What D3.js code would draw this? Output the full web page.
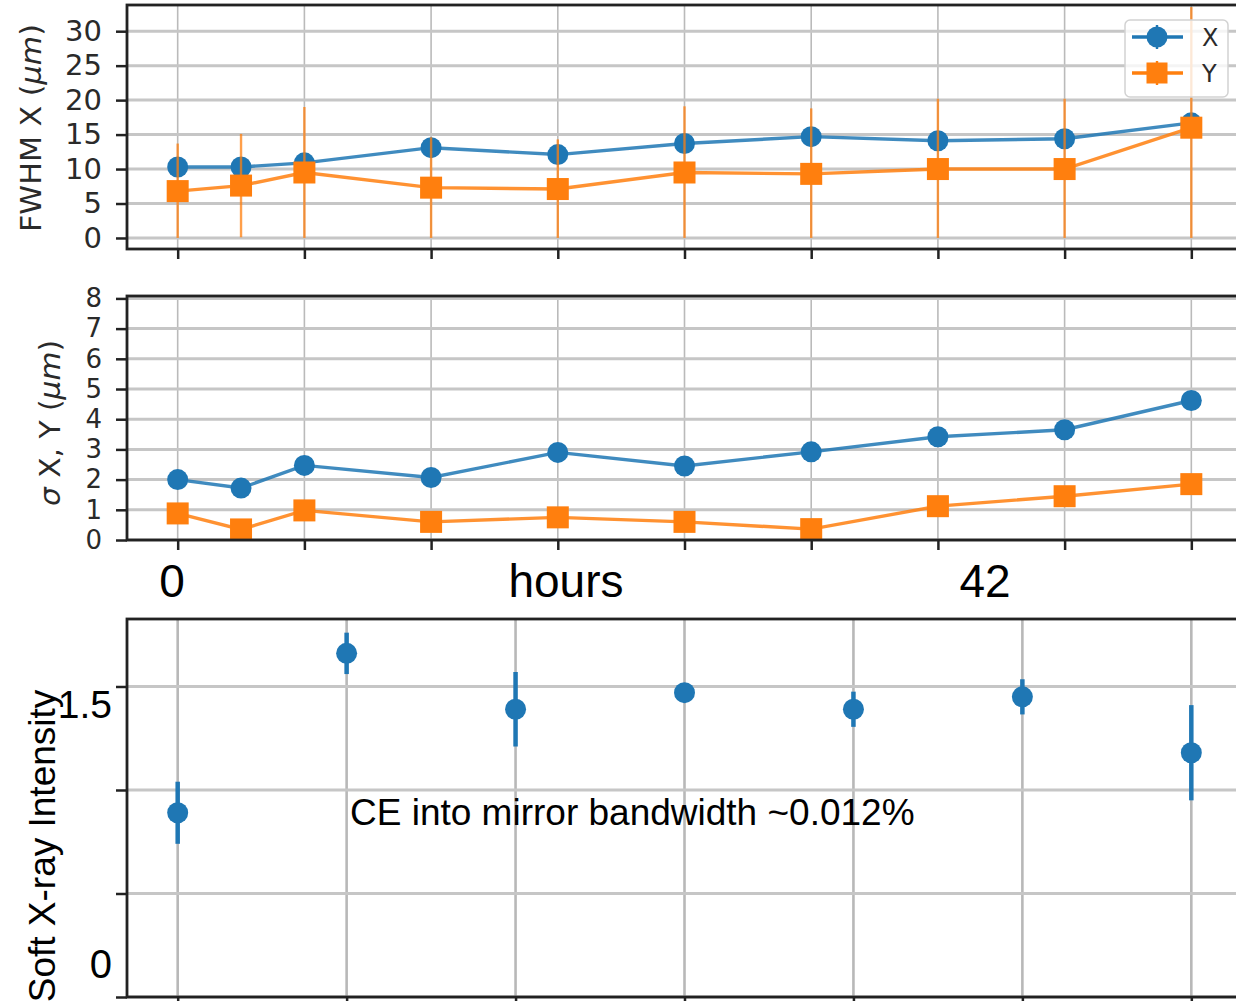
<!DOCTYPE html>
<html>
<head>
<meta charset="utf-8">
<script src="https://cdn.jsdelivr.net/npm/d3@7/dist/d3.min.js"></script>
<style>
  body { margin: 0; background: #fff; }
  svg { display: block; }
  .axis text { font-family: 'DejaVu Sans', sans-serif; fill: #2a2a2a; }
  .axis line { stroke: #222; stroke-width: 2.5; }
  .axis path { display: none; }
  .ylabel { font-family: 'DejaVu Sans', sans-serif; fill: #2a2a2a; }
  .note { font-family: 'Liberation Sans', Arial, sans-serif; fill: #000; }
</style>
</head>
<body>
<svg width="1236" height="1001"></svg>
<script>
// time axis shared by the two upper panels
const hours = [0, 3, 6, 12, 18, 24, 30, 36, 42, 48]
const hourTicks = [0, 6, 12, 18, 24, 30, 36, 42, 48]

// FWHM (um)
const fwhmX = [10.3, 10.3, 10.9, 13.1, 12.1, 13.7, 14.7, 14.1, 14.4, 16.7]
const fwhmXErr = [0.7, 0.7, 0.7, 0.7, 0.7, 0.7, 0.7, 0.7, 0.7, 0.8]
const fwhmY = [6.8, 7.6, 9.5, 7.3, 7.1, 9.5, 9.3, 10.0, 10.0, 16.0]
const fwhmYErr = [6.9, 7.5, 9.5, 7.3, 7.2, 9.6, 9.5, 10.2, 10.2, 17.5]
const fwhmTicks = [0, 5, 10, 15, 20, 25, 30]

// sigma (um)
const sigmaX = [2.0, 1.72, 2.47, 2.07, 2.9, 2.45, 2.92, 3.42, 3.65, 4.62]
const sigmaY = [0.88, 0.35, 0.98, 0.6, 0.75, 0.6, 0.36, 1.12, 1.45, 1.85]
const sigmaTicks = [0, 1, 2, 3, 4, 5, 6, 7, 8]

// soft x-ray intensity
const runs = [0, 1, 2, 3, 4, 5, 6]
const intensity = [0.89, 1.66, 1.39, 1.47, 1.39, 1.45, 1.18]
const intensityErr = [0.15, 0.1, 0.18, 0.03, 0.085, 0.085, 0.23]
const intensityTicks = [0, 0.5, 1, 1.5]

const legendLabels = ['X', 'Y']

const blue = '#1f77b4'
const orange = '#ff7f0e'

const svg = d3.select('svg')

const scales = {
  hours: d3.scaleLinear().domain([-2.4, 50.4]).range([127, 1242]),
  runs: d3.scaleLinear().domain([-0.3, 6.3]).range([127, 1242]),
  fwhm: d3.scaleLinear().domain([-1.6, 33.8]).range([249, 5]),
  sigma: d3.scaleLinear().domain([0, 8.08]).range([540, 296]),
  intensity: d3.scaleLinear().domain([0, 1.826]).range([997, 619])
}

const setupPanel = (id, x, y, xTicks, yTicks, opts) => {
  const [x0, x1] = x.range()
  const [y1, y0] = y.range()

  svg.append('clipPath').attr('id', id)
    .append('rect')
    .attr('x', x0).attr('y', y0)
    .attr('width', x1 - x0).attr('height', y1 - y0)

  const g = svg.append('g').attr('class', 'panel ' + id)

  g.append('g').selectAll('line').data(xTicks).join('line')
    .attr('x1', d => x(d)).attr('x2', d => x(d))
    .attr('y1', y0).attr('y2', y1)
    .attr('stroke', opts.vColor).attr('stroke-width', opts.vGrid)

  g.append('g').selectAll('line').data(yTicks).join('line')
    .attr('x1', x0).attr('x2', x1)
    .attr('y1', d => y(d)).attr('y2', d => y(d))
    .attr('stroke', '#c6c6c6').attr('stroke-width', 3)

  const plot = g.append('g').attr('clip-path', `url(#${id})`)

  const axisY = d3.axisLeft(y)
    .tickValues(yTicks)
    .tickSize(11)
    .tickPadding(14)
    .tickFormat(opts.yFormat)

  g.append('g').attr('class', 'axis axis-y')
    .attr('transform', `translate(${x0},0)`)
    .call(axisY)
    .selectAll('text')
    .style('font-size', opts.fontSize + 'px')

  const axisX = d3.axisBottom(x)
    .tickValues(xTicks)
    .tickSize(10)
    .tickFormat('')

  g.append('g').attr('class', 'axis axis-x')
    .attr('transform', `translate(0,${y1})`)
    .call(axisX)

  const frame = () => g.append('rect')
    .attr('x', x0).attr('y', y0)
    .attr('width', x1 - x0).attr('height', y1 - y0)
    .attr('fill', 'none')
    .attr('stroke', '#222')
    .attr('stroke-width', 2.8)

  return { g, plot, frame }
}

const drawSeries = (plot, x, y, xs, vals, errs, color, shape, withLine) => {
  const pts = xs.map((h, i) => ({ h, v: vals[i], e: errs ? errs[i] : 0 }))

  if (errs) {
    plot.append('g').selectAll('line').data(pts).join('line')
      .attr('x1', d => x(d.h)).attr('x2', d => x(d.h))
      .attr('y1', d => y(Math.max(0, d.v - d.e)))
      .attr('y2', d => y(d.v + d.e))
      .attr('stroke', color)
      .attr('stroke-width', withLine ? 2.4 : 4.5)
      .attr('opacity', withLine ? 0.75 : 1)
  }

  if (withLine) {
    const line = d3.line().x(d => x(d.h)).y(d => y(d.v))
    plot.append('path')
      .datum(pts)
      .attr('d', line)
      .attr('fill', 'none')
      .attr('stroke', color)
      .attr('stroke-width', 3.4)
      .attr('opacity', 0.85)
  }

  if (shape === 'circle') {
    plot.append('g').selectAll('circle').data(pts).join('circle')
      .attr('cx', d => x(d.h)).attr('cy', d => y(d.v))
      .attr('r', 10.5)
      .attr('fill', color)
  } else {
    plot.append('g').selectAll('rect').data(pts).join('rect')
      .attr('x', d => x(d.h) - 11).attr('y', d => y(d.v) - 11)
      .attr('width', 22).attr('height', 22)
      .attr('fill', color)
  }
}

// top panel: FWHM
const fwhmPanel = setupPanel('p-fwhm', scales.hours, scales.fwhm, hourTicks, fwhmTicks,
  { fontSize: 29, vGrid: 1.6, vColor: '#bababa', yFormat: d3.format('d') })
drawSeries(fwhmPanel.plot, scales.hours, scales.fwhm, hours, fwhmX, fwhmXErr, blue, 'circle', true)
drawSeries(fwhmPanel.plot, scales.hours, scales.fwhm, hours, fwhmY, fwhmYErr, orange, 'square', true)
fwhmPanel.frame()

// legend
const legend = fwhmPanel.g.append('g').attr('transform', 'translate(1125,20)')
legend.append('rect')
  .attr('width', 103).attr('height', 77).attr('rx', 5)
  .attr('fill', '#fff').attr('fill-opacity', 0.8)
  .attr('stroke', '#d2d2d2').attr('stroke-width', 1.5)
const items = legend.selectAll('.item').data(legendLabels).join('g')
  .attr('class', 'item')
  .attr('transform', (d, i) => `translate(0,${17 + i * 36})`)
items.append('line')
  .attr('x1', 7).attr('x2', 58)
  .attr('stroke', (d, i) => i ? orange : blue)
  .attr('stroke-width', 3.4)
items.append('line')
  .attr('x1', 32).attr('x2', 32).attr('y1', -12).attr('y2', 12)
  .attr('stroke', (d, i) => i ? orange : blue)
  .attr('stroke-width', 2.4)
items.filter((d, i) => i === 0).append('circle')
  .attr('cx', 32).attr('r', 10.5).attr('fill', blue)
items.filter((d, i) => i === 1).append('rect')
  .attr('x', 21.5).attr('y', -10.5).attr('width', 21).attr('height', 21)
  .attr('fill', orange)
items.append('text')
  .attr('class', 'ylabel')
  .attr('x', 77).attr('y', 9)
  .style('font-size', '24px')
  .text(d => d)

const fwhmLabel = svg.append('text')
  .attr('class', 'ylabel')
  .attr('transform', 'translate(41,128) rotate(-90)')
  .attr('text-anchor', 'middle')
  .attr('textLength', 208)
  .attr('lengthAdjust', 'spacingAndGlyphs')
  .style('font-size', '29px')
fwhmLabel.append('tspan').text('FWHM X (')
fwhmLabel.append('tspan').style('font-style', 'italic').text('μm')
fwhmLabel.append('tspan').text(')')

// middle panel: sigma
const sigmaPanel = setupPanel('p-sigma', scales.hours, scales.sigma, hourTicks, sigmaTicks,
  { fontSize: 26, vGrid: 1.6, vColor: '#bababa', yFormat: d3.format('d') })
drawSeries(sigmaPanel.plot, scales.hours, scales.sigma, hours, sigmaX, null, blue, 'circle', true)
drawSeries(sigmaPanel.plot, scales.hours, scales.sigma, hours, sigmaY, null, orange, 'square', true)
sigmaPanel.frame()

const sigmaLabel = svg.append('text')
  .attr('class', 'ylabel')
  .attr('transform', 'translate(60,423) rotate(-90)')
  .attr('text-anchor', 'middle')
  .attr('textLength', 166)
  .attr('lengthAdjust', 'spacingAndGlyphs')
  .style('font-size', '29px')
sigmaLabel.append('tspan').style('font-style', 'italic').text('σ')
sigmaLabel.append('tspan').text(' X, Y (')
sigmaLabel.append('tspan').style('font-style', 'italic').text('μm')
sigmaLabel.append('tspan').text(')')

// time annotations under the sigma panel
const timeNotes = [
  { text: '0', x: 172 },
  { text: 'hours', x: 566 },
  { text: '42', x: 985 }
]
svg.selectAll('.time-note').data(timeNotes).join('text')
  .attr('class', 'note time-note')
  .attr('x', d => d.x).attr('y', 597)
  .attr('text-anchor', 'middle')
  .style('font-size', '46px')
  .text(d => d.text)

// bottom panel: intensity
const intPanel = setupPanel('p-int', scales.runs, scales.intensity, runs, intensityTicks,
  { fontSize: 0, vGrid: 2.6, vColor: '#b8b8b8', yFormat: '' })
drawSeries(intPanel.plot, scales.runs, scales.intensity, runs, intensity, intensityErr, blue, 'circle', false)
intPanel.frame()

const intNotes = [
  { text: '1.5', y: 718, size: 39 },
  { text: '0', y: 978, size: 40 }
]
svg.selectAll('.int-note').data(intNotes).join('text')
  .attr('class', 'note int-note')
  .attr('x', 112).attr('y', d => d.y)
  .attr('text-anchor', 'end')
  .style('font-size', d => d.size + 'px')
  .text(d => d.text)

svg.append('text')
  .attr('class', 'note')
  .attr('transform', 'translate(55,846) rotate(-90)')
  .attr('text-anchor', 'middle')
  .style('font-size', '37px')
  .text('Soft X-ray Intensity')

svg.append('text')
  .attr('class', 'note')
  .attr('x', 350).attr('y', 825)
  .style('font-size', '37px')
  .text('CE into mirror bandwidth ~0.012%')
</script>
</body>
</html>
